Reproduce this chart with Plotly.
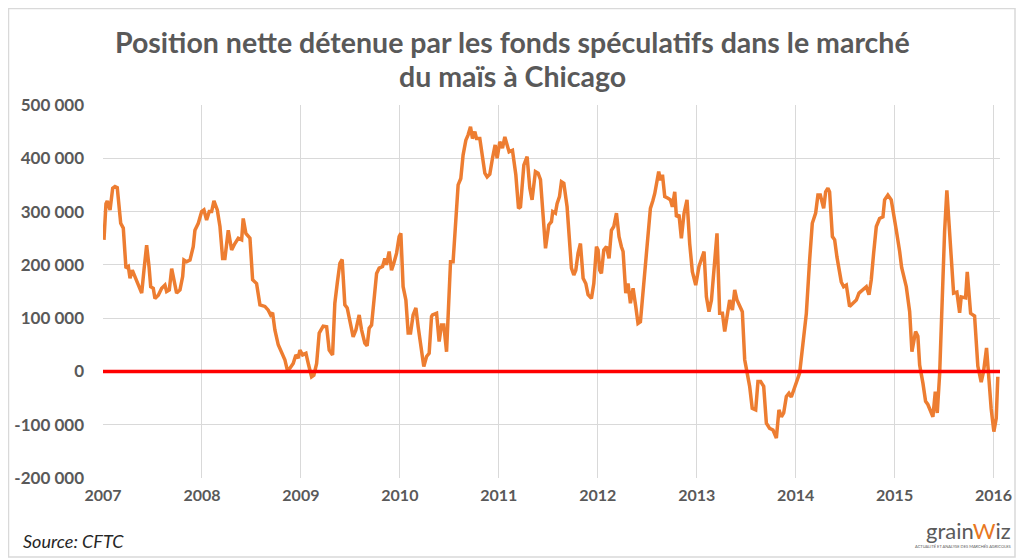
import plotly.graph_objects as go

# decimal-year dates (weekly readings, sampled) and net position (thousand contracts)
years = [
 2007.010,2007.030,2007.043,2007.071,2007.098,2007.121,2007.144,2007.179,2007.205,2007.232,
 2007.256,2007.273,2007.296,2007.323,2007.357,2007.391,2007.414,2007.441,2007.465,2007.482,
 2007.508,2007.525,2007.559,2007.593,2007.626,2007.643,2007.670,2007.694,2007.717,2007.744,
 2007.778,2007.805,2007.818,2007.845,2007.879,2007.896,2007.912,2007.929,2007.963,2007.997,
 2008.020,2008.047,2008.074,2008.098,2008.121,2008.155,2008.182,2008.209,2008.232,2008.266,
 2008.300,2008.333,2008.367,2008.401,2008.417,2008.444,2008.485,2008.512,2008.535,2008.552,
 2008.586,2008.636,2008.670,2008.694,2008.714,2008.737,2008.771,2008.805,2008.838,2008.862,
 2008.889,2008.922,2008.949,2008.973,2008.990,2009.017,2009.051,2009.078,2009.108,2009.131,
 2009.159,2009.185,2009.225,2009.260,2009.286,2009.320,2009.343,2009.367,2009.394,2009.417,
 2009.444,2009.468,2009.495,2009.528,2009.556,2009.589,2009.613,2009.646,2009.669,2009.690,
 2009.714,2009.737,2009.765,2009.791,2009.825,2009.848,2009.865,2009.892,2009.916,2009.939,
 2009.967,2009.993,2010.010,2010.033,2010.061,2010.084,2010.108,2010.134,2010.162,2010.185,
 2010.219,2010.242,2010.270,2010.296,2010.320,2010.330,2010.371,2010.397,2010.421,2010.444,
 2010.472,2010.488,2010.512,2010.538,2010.566,2010.589,2010.616,2010.639,2010.667,2010.690,
 2010.714,2010.734,2010.758,2010.775,2010.808,2010.835,2010.859,2010.882,2010.909,2010.936,
 2010.963,2010.983,2011.010,2011.037,2011.061,2011.084,2011.104,2011.138,2011.172,2011.199,
 2011.219,2011.253,2011.286,2011.313,2011.336,2011.370,2011.397,2011.421,2011.444,2011.472,
 2011.505,2011.532,2011.545,2011.572,2011.589,2011.613,2011.633,2011.657,2011.690,2011.717,
 2011.734,2011.758,2011.778,2011.801,2011.825,2011.852,2011.879,2011.902,2011.936,2011.960,
 2011.987,2012.003,2012.020,2012.037,2012.061,2012.088,2012.114,2012.138,2012.162,2012.189,
 2012.215,2012.239,2012.256,2012.283,2012.306,2012.330,2012.357,2012.384,2012.407,2012.431,
 2012.458,2012.485,2012.508,2012.532,2012.556,2012.576,2012.616,2012.633,2012.654,2012.677,
 2012.710,2012.734,2012.754,2012.778,2012.795,2012.821,2012.845,2012.872,2012.902,2012.929,
 2012.956,2012.990,2013.023,2013.047,2013.074,2013.098,2013.124,2013.149,2013.172,2013.205,
 2013.232,2013.260,2013.283,2013.306,2013.333,2013.361,2013.384,2013.407,2013.434,2013.461,
 2013.485,2013.508,2013.535,2013.561,2013.596,2013.619,2013.646,2013.677,2013.704,2013.737,
 2013.771,2013.805,2013.831,2013.856,2013.879,2013.906,2013.932,2013.956,2013.980,2014.007,
 2014.040,2014.074,2014.108,2014.141,2014.168,2014.202,2014.225,2014.249,2014.283,2014.303,
 2014.326,2014.343,2014.371,2014.394,2014.417,2014.461,2014.485,2014.512,2014.545,2014.579,
 2014.613,2014.640,2014.680,2014.714,2014.741,2014.764,2014.788,2014.815,2014.848,2014.882,
 2014.899,2014.932,2014.966,2014.993,2015.017,2015.051,2015.071,2015.118,2015.152,2015.175,
 2015.212,2015.235,2015.253,2015.286,2015.313,2015.336,2015.371,2015.387,2015.411,2015.431,
 2015.455,2015.482,2015.505,2015.528,2015.549,2015.573,2015.596,2015.629,2015.657,2015.673,
 2015.717,2015.734,2015.768,2015.808,2015.841,2015.875,2015.899,2015.929,2015.952,2015.976,
 2016.003,2016.027,2016.043,
]
net_k = [
 247,315,320,303,344,347,345,278,269,194,
 197,175,190,178,159,147,190,237,197,159,
 156,137,143,156,162,150,153,193,172,147,
 153,178,209,206,209,225,234,265,278,300,
 303,284,300,300,320,303,272,212,212,265,
 228,240,250,247,287,259,250,172,168,165,
 125,122,115,106,110,78,50,34,22,3,
 6,15,31,25,40,31,34,12,-10,-7,
 15,72,85,84,40,31,128,165,203,210,
 125,119,97,65,78,106,78,53,48,81,
 87,128,184,194,197,212,200,225,190,203,
 222,253,259,159,134,72,72,106,119,84,
 34,9,28,34,103,106,109,56,87,87,
 37,106,206,206,300,350,362,406,434,444,
 459,437,450,437,437,403,372,365,370,400,
 425,400,431,419,440,425,412,415,369,306,
 309,387,403,344,322,375,372,360,300,231,
 275,281,300,297,315,328,356,353,309,234,
 194,181,190,222,240,175,165,144,137,165,
 234,228,190,184,228,234,212,265,272,297,
 253,234,225,147,165,128,156,122,90,93,
 153,209,253,306,320,334,375,359,369,328,
 325,322,309,337,290,294,250,297,322,240,
 187,162,197,209,225,140,112,134,190,259,
 109,109,75,103,134,115,153,134,122,112,
 22,0,-28,-69,-72,-19,-19,-28,-97,-107,
 -110,-125,-72,-85,-78,-47,-41,-48,-35,-19,
 -3,53,109,209,278,297,331,331,306,337,
 344,337,253,247,215,168,159,162,122,128,
 134,147,153,159,144,172,222,272,287,290,
 322,331,322,287,265,225,195,159,112,37,
 75,66,12,-22,-56,-62,-80,-85,-38,-78,
 -5,150,262,340,282,200,147,149,110,140,
 138,187,109,104,10,-20,0,44,-15,-70,
 -113,-88,-10,
]
year_ticks = list(range(2007, 2017))
y_ticks = [500000, 400000, 300000, 200000, 100000, 0, -100000, -200000]
y_tick_labels = ["500 000", "400 000", "300 000", "200 000", "100 000", "0", "-100 000", "-200 000"]

title_lines = ["Position nette détenue par les fonds spéculatifs dans le marché",
               "du maïs à Chicago"]
source_text = "Source: CFTC"

# page body has an 8px default margin; the figure is sized to fit inside the window
OFF = 8
W, H = 1024 - 2 * OFF, 558 - OFF
PL, PR, PT, PB = 103, 1000, 105, 478          # plot area, page pixels
ML, MR, MT, MB = PL - OFF, W - (PR - OFF), PT - OFF, H - (PB - OFF)
GRAY = "#595959"
FONT = "Lato"

values = [v * 1000 for v in net_k]
pw = W - ML - MR
ph = H - MT - MB


def px(xp):
    return (xp - OFF - ML) / pw


def py(yp):
    return (H - MB - (yp - OFF)) / ph


fig = go.Figure()
fig.add_trace(go.Scatter(
    x=years, y=values, mode="lines",
    line=dict(color="#ED7D31", width=3.5),
    showlegend=False, hoverinfo="x+y",
))

fig.add_shape(type="rect", xref="paper", yref="paper",
              x0=px(OFF + 0.5), x1=px(OFF + W - 1),
              y0=py(OFF + H - 1), y1=py(OFF + 0.5),
              line=dict(color="#D9D9D9", width=1.5), layer="below")
fig.add_shape(type="line", xref="paper", yref="y", x0=0, x1=1, y0=0, y1=0,
              line=dict(color="#FF0000", width=3.5), layer="above")

annotations = []
for line, ypage in zip(title_lines, [42, 76]):
    annotations.append(dict(text=f"<b>{line}</b>", xref="paper", yref="paper",
                            x=px(512), y=py(ypage), xanchor="center", yanchor="middle",
                            showarrow=False,
                            font=dict(family=FONT, size=28.5, color=GRAY)))
annotations += [
    dict(text=source_text, xref="paper", yref="paper",
         x=px(21), y=py(541), xanchor="left", yanchor="middle",
         showarrow=False, font=dict(family=FONT, size=18, color="#262626", style="italic")),
    dict(text="grain<span style='color:#E87722'>W</span>iz", xref="paper", yref="paper",
         x=px(1013), y=py(530), xanchor="right", yanchor="middle",
         showarrow=False, font=dict(family=FONT, size=22, color="#5a5a5a")),
    dict(text="ACTUALITÉ ET ANALYSE DES MARCHÉS AGRICOLES", xref="paper", yref="paper",
         x=px(1013), y=py(546), xanchor="right", yanchor="middle",
         showarrow=False, font=dict(family=FONT, size=4, color="#5a5a5a")),
]

fig.update_layout(
    width=W, height=H,
    margin=dict(l=ML, r=MR, t=MT, b=MB, pad=0, autoexpand=False),
    paper_bgcolor="white", plot_bgcolor="white",
    font=dict(family=FONT, color=GRAY),
    xaxis=dict(range=[2007, 2016.065], tickvals=year_ticks,
               ticktext=[str(y) for y in year_ticks], automargin=False,
               showgrid=True, gridcolor="#D9D9D9", gridwidth=1,
               zeroline=False, showline=False, ticks="",
               tickfont=dict(family=FONT, size=16, color=GRAY, weight="bold"),
               ticklabelstandoff=6),
    yaxis=dict(range=[-200000, 500000], tickvals=y_ticks, ticktext=y_tick_labels,
               automargin=False,
               showgrid=True, gridcolor="#D9D9D9", gridwidth=1,
               zeroline=False, showline=False, ticks="",
               tickfont=dict(family=FONT, size=17, color=GRAY, weight="bold"),
               ticklabelstandoff=18),
    annotations=annotations,
)

fig.write_html("out.html")
